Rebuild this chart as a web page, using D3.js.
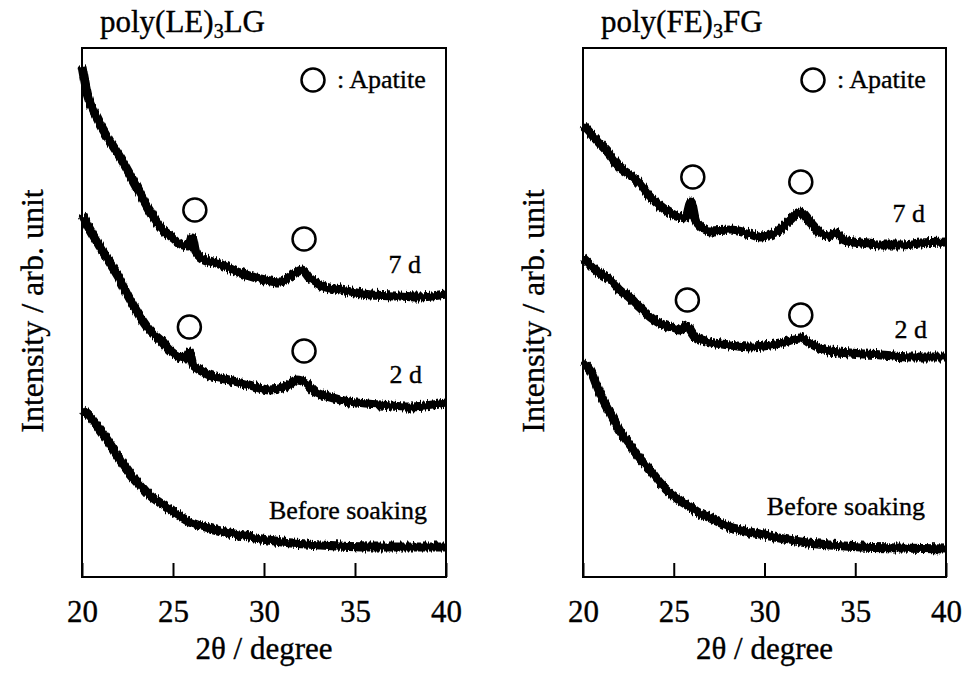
<!DOCTYPE html>
<html>
<head>
<meta charset="utf-8">
<script src="https://cdn.jsdelivr.net/npm/d3@7"></script>
<style>
  html, body { margin: 0; padding: 0; background: #fff; }
  svg { display: block; }
  svg text { font-family: "Liberation Serif", "Times New Roman", serif !important; fill: #000; stroke: #000; stroke-width: 0.35px; }
</style>
</head>
<body>
<svg id="chart" width="968" height="677"></svg>
<script>
// 2θ tick values shared by both panels
const thetaTicks = [20, 25, 30, 35, 40];

// XRD patterns, [2θ (deg), intensity (arb. unit, offset for stacking)]
// poly(LE)3LG
const leBefore = [
  [20.0,167],[20.45,160],[21.0,147],[21.5,134],[22.1,117],[22.6,104],[23.2,92],[23.7,82],
  [24.3,74],[25.1,64],[25.9,55],[27.0,49],[28.1,44],[29.2,40],[31.0,35],[33.1,32],
  [35.9,30],[38.6,30],[40.0,30]
];
const le2d = [
  [20.0,362],[20.45,347],[21.0,330],[21.5,315],[22.1,297],[22.6,279],[23.2,260],[23.7,247],
  [24.3,237],[24.8,227],[25.4,220],[25.7,219],[25.9,225],[26.1,212],[26.3,209],[27.0,202],
  [28.1,197],[29.2,192],[30.3,187],[31.2,190],[31.8,197],[32.3,194],[32.8,185],[33.6,180],
  [34.7,175],[36.4,172],[38.0,170],[40.0,174]
];
const le7d = [
  [20.0,511],[20.3,482],[20.8,460],[21.5,437],[22.25,415],[22.8,397],[23.6,370],[24.3,350],
  [25.0,339],[25.55,332],[25.85,331],[26.05,340],[26.25,325],[26.5,320],[27.4,314],[28.7,304],
  [29.8,298],[30.9,295],[31.4,300],[31.8,305],[32.1,307],[32.5,299],[33.1,292],[34.2,287],
  [35.9,282],[37.5,281],[38.5,280],[40.0,283]
];
// poly(FE)3FG
const feBefore = [
  [20.0,215],[20.4,207],[20.9,185],[21.5,164],[22.0,147],[22.6,132],[23.1,119],[23.7,107],
  [24.2,95],[24.8,84],[25.3,77],[25.9,70],[26.4,64],[27.0,59],[28.1,50],[29.2,45],
  [30.0,42],[32.0,35],[33.6,32],[35.3,30],[37.5,29],[40.0,28]
];
const fe2d = [
  [20.0,319],[20.4,312],[20.9,304],[21.5,297],[22.0,287],[22.6,279],[23.1,270],[23.7,260],
  [24.2,254],[24.8,250],[25.3,247],[25.7,251],[26.2,240],[27.0,235],[28.1,232],[29.2,230],
  [30.3,232],[31.1,235],[31.95,239],[32.5,234],[33.3,227],[34.7,224],[36.4,222],[38.0,220],
  [40.0,220]
];
const fe7d = [
  [20.0,452],[20.4,444],[20.9,434],[21.5,422],[22.0,410],[22.6,402],[23.1,394],[23.7,380],
  [24.2,372],[24.8,364],[25.3,360],[25.65,359],[25.95,375],[26.2,357],[26.3,354],[27.0,346],
  [28.1,347],[29.2,343],[29.75,340],[30.6,344],[31.4,357],[31.95,365],[32.5,355],[33.1,344],
  [33.5,341],[33.9,344],[34.4,337],[35.3,334],[36.4,332],[37.5,332],[38.6,334],[40.0,335]
];

// Apatite reflections marked above each pattern, [2θ, intensity]
const leMarks = [[26.2,367],[32.2,338],[25.9,250],[32.2,226]];
const feMarks = [[26.05,400],[32.0,395],[25.75,277],[32.0,262]];

// Pattern names, anchored at [2θ, intensity] (right aligned)
const patternNames = ["7 d", "2 d", "Before soaking"];
const leNameAt = [[38.63,304],[38.68,194],[38.96,58]];
const feNameAt = [[38.84,355],[38.95,239],[38.84,62]];

const legendText = ": Apatite";
const xTitle = "2\u03b8 / degree";
const yTitle = "Intensity / arb. unit";

const panels = [
  { name: "poly(LE)", sub: "3", tail: "LG", x0: 82, x1: 446,
    series: [le7d, le2d, leBefore], marks: leMarks, names: leNameAt },
  { name: "poly(FE)", sub: "3", tail: "FG", x0: 583, x1: 946,
    series: [fe7d, fe2d, feBefore], marks: feMarks, names: feNameAt }
];

const plotTop = 48, plotBottom = 577;
const svg = d3.select("#chart");
const y = d3.scaleLinear().domain([0, 529]).range([plotBottom, plotTop]);

// counting-noise texture for the diffraction traces: vertical jitter only
const defs = svg.append("defs");
const rough = defs.append("filter").attr("id", "rough")
  .attr("filterUnits", "userSpaceOnUse")
  .attr("x", 0).attr("y", 0).attr("width", 968).attr("height", 677);
rough.append("feTurbulence")
  .attr("type", "fractalNoise").attr("baseFrequency", "0.6 0.04")
  .attr("numOctaves", 2).attr("seed", 7).attr("result", "noise");
const ct = rough.append("feComponentTransfer").attr("in", "noise").attr("result", "noiseY");
ct.append("feFuncR").attr("type", "linear").attr("slope", 0).attr("intercept", 0.5);
ct.append("feFuncA").attr("type", "linear").attr("slope", 0).attr("intercept", 1);
rough.append("feDisplacementMap")
  .attr("in", "SourceGraphic").attr("in2", "noiseY").attr("scale", 8)
  .attr("xChannelSelector", "R").attr("yChannelSelector", "G");

panels.forEach(p => {
  const x = d3.scaleLinear().domain([20, 40]).range([p.x0, p.x1]);
  const g = svg.append("g");

  // panel title with subscript
  const t = g.append("text")
    .attr("x", p.x0 + 18).attr("y", 32)
    .attr("font-size", 31);
  t.append("tspan").text(p.name);
  t.append("tspan").attr("font-size", 20).attr("dy", 6).text(p.sub);
  t.append("tspan").attr("dy", -6).text(p.tail);

  // patterns
  const line = d3.line()
    .x(d => x(d[0])).y(d => y(d[1]))
    .curve(d3.curveMonotoneX);
  g.append("g").attr("filter", "url(#rough)")
    .selectAll("path").data(p.series).join("path")
    .attr("d", line)
    .attr("fill", "none").attr("stroke", "#000")
    .attr("stroke-width", 9).attr("stroke-linejoin", "round");

  // apatite markers
  g.append("g").selectAll("circle").data(p.marks).join("circle")
    .attr("cx", d => x(d[0])).attr("cy", d => y(d[1])).attr("r", 11.5)
    .attr("fill", "none").attr("stroke", "#000").attr("stroke-width", 2.5);

  // pattern names
  g.append("g").selectAll("text").data(p.names).join("text")
    .attr("x", d => x(d[0])).attr("y", d => y(d[1]))
    .attr("text-anchor", "end").attr("font-size", 26)
    .text((d, i) => patternNames[i]);

  // legend
  g.append("circle")
    .attr("cx", p.x1 - 133).attr("cy", 80).attr("r", 11.5)
    .attr("fill", "none").attr("stroke", "#000").attr("stroke-width", 2.5);
  g.append("text")
    .attr("x", p.x1 - 109).attr("y", 88).attr("font-size", 26)
    .text(legendText);

  // x axis with inward ticks
  const ax = g.append("g").attr("transform", `translate(0,${plotBottom})`)
    .call(d3.axisBottom(x).tickValues(thetaTicks)
      .tickSizeInner(-14).tickSizeOuter(0).tickPadding(23));
  ax.select(".domain").remove();
  ax.selectAll(".tick line").attr("stroke", "#000").attr("stroke-width", 2);
  ax.selectAll(".tick text").attr("font-size", 31);

  // frame
  g.append("rect")
    .attr("x", p.x0).attr("y", plotTop)
    .attr("width", p.x1 - p.x0).attr("height", plotBottom - plotTop)
    .attr("fill", "none").attr("stroke", "#000").attr("stroke-width", 2);

  // axis titles
  g.append("text")
    .attr("x", (p.x0 + p.x1) / 2).attr("y", 659)
    .attr("text-anchor", "middle").attr("font-size", 31)
    .text(xTitle);
  g.append("text")
    .attr("transform", `translate(${p.x0 - 39},${311}) rotate(-90)`)
    .attr("text-anchor", "middle").attr("font-size", 32)
    .text(yTitle);
});
</script>
</body>
</html>
